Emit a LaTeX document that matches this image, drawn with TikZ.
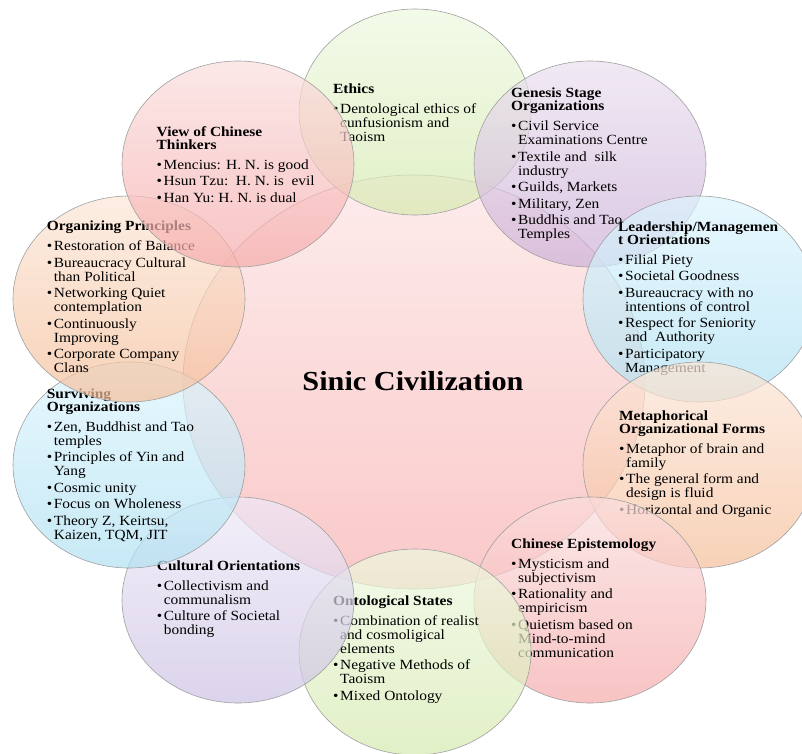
\documentclass[tikz,border=0pt]{standalone}
\usepackage{fontspec}
\setmainfont{Liberation Serif}[FakeStretch=1.1]

% fill colours: top / bottom of each disc
\definecolor{cenT}{RGB}{253,236,236}\definecolor{cenB}{RGB}{250,200,200}
\definecolor{grnT}{RGB}{238,249,224}\definecolor{grnB}{RGB}{214,234,176}
\definecolor{redT}{RGB}{251,222,222}\definecolor{redB}{RGB}{246,171,171}
\definecolor{purT}{RGB}{234,225,239}\definecolor{purB}{RGB}{205,176,216}
\definecolor{bluT}{RGB}{222,245,254}\definecolor{bluB}{RGB}{176,225,242}
\definecolor{orgT}{RGB}{252,231,216}\definecolor{orgB}{RGB}{245,191,154}
\definecolor{lavT}{RGB}{239,234,248}\definecolor{lavB}{RGB}{205,194,228}
\definecolor{rim}{RGB}{160,160,160}

\newlength\bulw
\setlength\bulw{7pt}
\newcommand\itm{\makebox[\bulw][l]{\textbullet}}
\newcommand\cnt{\hspace*{\bulw}}
\newcommand\ttl[1]{\textbf{#1}}

\tikzset{
  disc/.style={draw=rim, line width=0.6pt, fill opacity=0.7},
  hub/.style={draw=rim, line width=0.6pt},
  txt/.style={anchor=base west, inner sep=0pt, font=\fontsize{14}{14}\selectfont, text=black},
}

\begin{document}
\begin{tikzpicture}[x=1pt, y=-1pt]
\useasboundingbox (0,0) rectangle (802,753);
\fill[white] (0,0) rectangle (802,753);

% central disc
\path[hub, top color=cenT, bottom color=cenB] (414,382) ellipse [x radius=231pt, y radius=207pt];
\node[anchor=base, inner sep=0pt, font=\fontsize{27.5}{28}\selectfont\bfseries] (hubT) at (413,390) {Sinic Civilization};

% Ethics
\path[disc, top color=grnT, bottom color=grnB] (415,112) ellipse [x radius=116pt, y radius=103pt];
\node[txt] (ethT) at (333,93) {\begin{tabular}[t]{@{}l@{}}
\ttl{Ethics}\\[6pt]
\itm Dentological ethics of\\
\cnt cunfusionism and\\
\cnt Taoism
\end{tabular}};

% Genesis Stage Organizations
\path[disc, top color=purT, bottom color=purB] (590,164) ellipse [x radius=116pt, y radius=103pt];
\node[txt] (genT) at (511,97.7) {\begin{tabular}[t]{@{}l@{}}
\ttl{Genesis Stage}\\[-1pt]
\ttl{Organizations}\\[6pt]
\itm Civil Service\\
\cnt Examinations Centre\\[2.5pt]
\itm Textile and\ \ silk\\
\cnt industry\\[2.5pt]
\itm Guilds, Markets\\[2.5pt]
\itm Military, Zen\\[2.5pt]
\itm Buddhis and Tao\\
\cnt Temples
\end{tabular}};

% Leadership / Management Orientations
\path[disc, top color=bluT, bottom color=bluB] (699,299) ellipse [x radius=116pt, y radius=103pt];
\node[txt] (ldrT) at (618,231) {\begin{tabular}[t]{@{}l@{}}
\ttl{Leadership/Managemen}\\[-1pt]
\ttl{t Orientations}\\[6pt]
\itm Filial Piety\\[2.5pt]
\itm Societal Goodness\\[2.5pt]
\itm Bureaucracy with no\\
\cnt intentions of control\\[2.5pt]
\itm Respect for Seniority\\
\cnt and\ \ Authority\\[2.5pt]
\itm Participatory\\
\cnt Management
\end{tabular}};

% Metaphorical Organizational Forms
\path[disc, top color=orgT, bottom color=orgB] (699,465) ellipse [x radius=116pt, y radius=103pt];
\node[txt] (metT) at (619,420) {\begin{tabular}[t]{@{}l@{}}
\ttl{Metaphorical}\\[-1pt]
\ttl{Organizational Forms}\\[6pt]
\itm Metaphor of brain and\\
\cnt family\\[2.5pt]
\itm The general form and\\
\cnt design is fluid\\[2.5pt]
\itm Horizontal and Organic
\end{tabular}};

% Chinese Epistemology
\path[disc, top color=redT, bottom color=redB] (590,600) ellipse [x radius=116pt, y radius=103pt];
\node[txt] (epiT) at (511,548.3) {\begin{tabular}[t]{@{}l@{}}
\ttl{Chinese Epistemology}\\[6pt]
\itm Mysticism and\\
\cnt subjectivism\\[2.5pt]
\itm Rationality and\\
\cnt empiricism\\[2.5pt]
\itm Quietism based on\\
\cnt Mind-to-mind\\
\cnt communication
\end{tabular}};

% Ontological States
\path[disc, top color=grnT, bottom color=grnB] (415,652) ellipse [x radius=116pt, y radius=103pt];
\node[txt] (ontT) at (333,605) {\begin{tabular}[t]{@{}l@{}}
\ttl{Ontological States}\\[6pt]
\itm Combination of realist\\
\cnt and cosmoligical\\
\cnt elements\\[2.5pt]
\itm Negative Methods of\\
\cnt Taoism\\[2.5pt]
\itm Mixed Ontology
\end{tabular}};

% Cultural Orientations
\path[disc, top color=lavT, bottom color=lavB] (238,600) ellipse [x radius=116pt, y radius=103pt];
\node[txt] (culT) at (156.7,570) {\begin{tabular}[t]{@{}l@{}}
\ttl{Cultural Orientations}\\[6pt]
\itm Collectivism and\\
\cnt communalism\\[2.5pt]
\itm Culture of Societal\\
\cnt bonding
\end{tabular}};

% Surviving Organizations
\path[disc, top color=bluT, bottom color=bluB] (129,465) ellipse [x radius=116pt, y radius=103pt];
\node[txt] (surT) at (46.7,398.3) {\begin{tabular}[t]{@{}l@{}}
\ttl{Surviving}\\[-1pt]
\ttl{Organizations}\\[6pt]
\itm Zen, Buddhist and Tao\\
\cnt temples\\[2.5pt]
\itm Principles of Yin and\\
\cnt Yang\\[2.5pt]
\itm Cosmic unity\\[2.5pt]
\itm Focus on Wholeness\\[2.5pt]
\itm Theory Z, Keirtsu,\\
\cnt Kaizen, TQM, JIT
\end{tabular}};

% Organizing Principles
\path[disc, top color=orgT, bottom color=orgB] (129,299) ellipse [x radius=116pt, y radius=103pt];
\node[txt] (orgT) at (46.7,230.7) {\begin{tabular}[t]{@{}l@{}}
\ttl{Organizing Principles}\\[6pt]
\itm Restoration of Balance\\[2.5pt]
\itm Bureaucracy Cultural\\
\cnt than Political\\[2.5pt]
\itm Networking Quiet\\
\cnt contemplation\\[2.5pt]
\itm Continuously\\
\cnt Improving\\[2.5pt]
\itm Corporate Company\\
\cnt Clans
\end{tabular}};

% View of Chinese Thinkers
\path[disc, top color=redT, bottom color=redB] (238,164) ellipse [x radius=116pt, y radius=103pt];
\node[txt] (vwT) at (156.5,136) {\begin{tabular}[t]{@{}l@{}}
\ttl{View of Chinese}\\[-1pt]
\ttl{Thinkers}\\[6pt]
\itm Mencius: H. N. is good\\[2.5pt]
\itm Hsun Tzu:\ \ H. N. is\ \ evil\\[2.5pt]
\itm Han Yu:\ H. N. is dual
\end{tabular}};
\end{tikzpicture}
\end{document}
